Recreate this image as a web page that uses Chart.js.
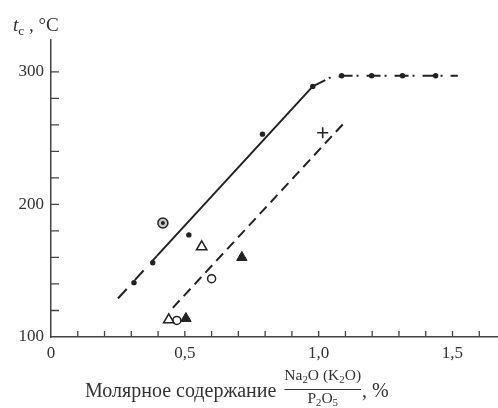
<!DOCTYPE html>
<html>
<head>
<meta charset="utf-8">
<script src="https://cdn.jsdelivr.net/npm/chart.js@4/dist/chart.umd.min.js"></script>
<style>
  html, body { margin: 0; padding: 0; background: #fff; }
  #wrap { width: 498px; height: 408px; position: relative; }
</style>
</head>
<body>
<div id="wrap"><canvas id="chart"></canvas></div>
<script>
// tick marks and labels
const xTickValues = [0, 0.1, 0.2, 0.3, 0.4, 0.5, 0.6, 0.7, 0.8, 0.9, 1.0, 1.1, 1.2, 1.3, 1.4, 1.5, 1.6];
const xLabelValues = [0, 0.5, 1.0, 1.5];
const xLabelTexts = ['0', '0,5', '1,0', '1,5'];
const yTickValues = [100, 120, 140, 160, 180, 200, 220, 240, 260, 280, 300];
const yLabelValues = [100, 200, 300];
const yLabelTexts = ['100', '200', '300'];

// measured points (x = molar ratio, y = t_c)
const filledDots = [
    { x: 0.31, y: 141 }, { x: 0.38, y: 156 }, { x: 0.515, y: 177 },
    { x: 0.79, y: 253 }, { x: 0.978, y: 289 },
    { x: 1.086, y: 297 }, { x: 1.198, y: 297 }, { x: 1.313, y: 297 }, { x: 1.437, y: 297 }
];
const circledDots = [{ x: 0.418, y: 186 }];
const openTriangles = [{ x: 0.563, y: 168 }, { x: 0.44, y: 113 }];
const filledTriangles = [{ x: 0.713, y: 160 }, { x: 0.504, y: 114 }];
const openCircles = [{ x: 0.60, y: 144 }, { x: 0.47, y: 112.5 }];
const crosses = [{ x: 1.015, y: 254 }];

// fitted curves
const lineLow = [{ x: 0.25, y: 129 }, { x: 0.395, y: 161 }];
const lineSolid = [{ x: 0.395, y: 161 }, { x: 0.978, y: 289 }];
const lineTop = [{ x: 0.978, y: 289 }, { x: 1.041, y: 295.5 }, { x: 1.09, y: 297 }, { x: 1.52, y: 297 }];
const lineDashed = [{ x: 0.455, y: 122 }, { x: 1.093, y: 261 }];

const ink = '#222';
const axisInk = '#444';

function pickLabel(value, values, texts) {
    for (let i = 0; i < values.length; i++) {
        if (Math.abs(values[i] - value) < 1e-6) return texts[i];
    }
    return '';
}

// draws text runs, some of them as subscripts
function drawRuns(ctx, runs, x, y, size) {
    let cx = x;
    runs.forEach(r => {
        const s = r.sub ? size * 0.7 : size;
        ctx.font = (r.italic ? 'italic ' : '') + s + 'px "Liberation Serif"';
        ctx.fillText(r.t, cx, r.sub ? y + size * 0.22 : y);
        cx += ctx.measureText(r.t).width;
    });
    return cx;
}

function runsWidth(ctx, runs, size) {
    let w = 0;
    runs.forEach(r => {
        const s = r.sub ? size * 0.7 : size;
        ctx.font = (r.italic ? 'italic ' : '') + s + 'px "Liberation Serif"';
        w += ctx.measureText(r.t).width;
    });
    return w;
}

const axisDecor = {
    id: 'axisDecor',
    afterDraw(chart) {
        const ctx = chart.ctx;
        const xs = chart.scales.x;
        const ys = chart.scales.y;
        const area = chart.chartArea;
        ctx.save();
        ctx.strokeStyle = axisInk;
        ctx.lineWidth = 1.3;
        ctx.beginPath();
        xTickValues.forEach(v => {
            if (v === 0) return;
            const px = xs.getPixelForValue(v);
            ctx.moveTo(px, area.bottom);
            ctx.lineTo(px, area.bottom - 6);
        });
        yTickValues.forEach(v => {
            if (v === 100) return;
            const py = ys.getPixelForValue(v);
            ctx.moveTo(area.left, py);
            ctx.lineTo(area.left + 8, py);
        });
        ctx.stroke();

        ctx.fillStyle = '#333';
        ctx.textBaseline = 'alphabetic';
        ctx.textAlign = 'left';
        // y title: t_c, °C
        drawRuns(ctx, [
            { t: 't', italic: true }, { t: 'c', sub: true }, { t: ' , °C' }
        ], 13, 31, 19);

        // x title with fraction
        const size = 20;
        ctx.font = size + 'px "Liberation Serif"';
        const lead = 'Молярное содержание';
        ctx.fillText(lead, 85, 397);
        const fx = 85 + ctx.measureText(lead).width + 8;
        const num = [{ t: 'Na' }, { t: '2', sub: true }, { t: 'O (K' }, { t: '2', sub: true }, { t: 'O)' }];
        const den = [{ t: 'P' }, { t: '2', sub: true }, { t: 'O' }, { t: '5', sub: true }];
        const fs = 15.5;
        const nw = runsWidth(ctx, num, fs);
        const dw = runsWidth(ctx, den, fs);
        drawRuns(ctx, num, fx, 380, fs);
        drawRuns(ctx, den, fx + (nw - dw) / 2, 403, fs);
        ctx.lineWidth = 1;
        ctx.strokeStyle = '#333';
        ctx.beginPath();
        ctx.moveTo(fx, 389.5);
        ctx.lineTo(fx + nw, 389.5);
        ctx.stroke();
        ctx.font = size + 'px "Liberation Serif"';
        ctx.fillText(', %', fx + nw + 1, 397);
        ctx.restore();
    }
};

function pointSet(data, style, radius, fill, width) {
    return {
        data: data,
        showLine: false,
        pointStyle: style,
        pointRadius: radius,
        pointHoverRadius: radius,
        pointBackgroundColor: fill,
        pointBorderColor: ink,
        pointBorderWidth: width
    };
}

function lineSet(data, dash) {
    return {
        data: data,
        showLine: true,
        borderColor: ink,
        borderWidth: 2,
        borderDash: dash,
        pointRadius: 0,
        tension: 0
    };
}

new Chart(document.getElementById('chart'), {
    type: 'scatter',
    data: {
        datasets: [
            pointSet(circledDots, 'circle', 2, ink, 0),
            pointSet(circledDots, 'circle', 5, '#ccc', 1.5),
            pointSet(filledDots, 'circle', 2.7, ink, 0),
            pointSet(openTriangles, 'triangle', 6, '#fff', 1.5),
            pointSet(filledTriangles, 'triangle', 6, ink, 1),
            pointSet(openCircles, 'circle', 4, '#fff', 1.5),
            pointSet(crosses, 'cross', 5.5, ink, 1.6),
            lineSet(lineLow, [13, 12]),
            lineSet(lineSolid, []),
            lineSet(lineTop, [14, 4, 2, 8]),
            lineSet(lineDashed, [10, 6])
        ]
    },
    options: {
        responsive: true,
        maintainAspectRatio: false,
        animation: false,
        events: [],
        layout: { autoPadding: false, padding: { top: 40, right: 0, bottom: 0, left: 0 } },
        plugins: {
            legend: { display: false },
            tooltip: { enabled: false }
        },
        scales: {
            x: {
                type: 'linear',
                min: 0,
                max: 1.67,
                afterFit: scale => { scale.height = 71; },
                afterBuildTicks: scale => { scale.ticks = xTickValues.map(v => ({ value: v })); },
                grid: { display: false, drawTicks: false },
                border: { display: true, color: axisInk, width: 1.5 },
                ticks: {
                    autoSkip: false,
                    maxRotation: 0,
                    padding: 6,
                    color: '#333',
                    font: { family: 'Liberation Serif', size: 17 },
                    callback: v => pickLabel(v, xLabelValues, xLabelTexts)
                }
            },
            y: {
                type: 'linear',
                min: 100,
                max: 324,
                afterFit: scale => { scale.width = 51; },
                afterBuildTicks: scale => { scale.ticks = yTickValues.map(v => ({ value: v })); },
                grid: { display: false, drawTicks: false },
                border: { display: true, color: axisInk, width: 1.5 },
                ticks: {
                    autoSkip: false,
                    padding: 7,
                    color: '#333',
                    font: { family: 'Liberation Serif', size: 17 },
                    callback: v => pickLabel(v, yLabelValues, yLabelTexts)
                }
            }
        }
    },
    plugins: [axisDecor]
});
</script>
</body>
</html>
